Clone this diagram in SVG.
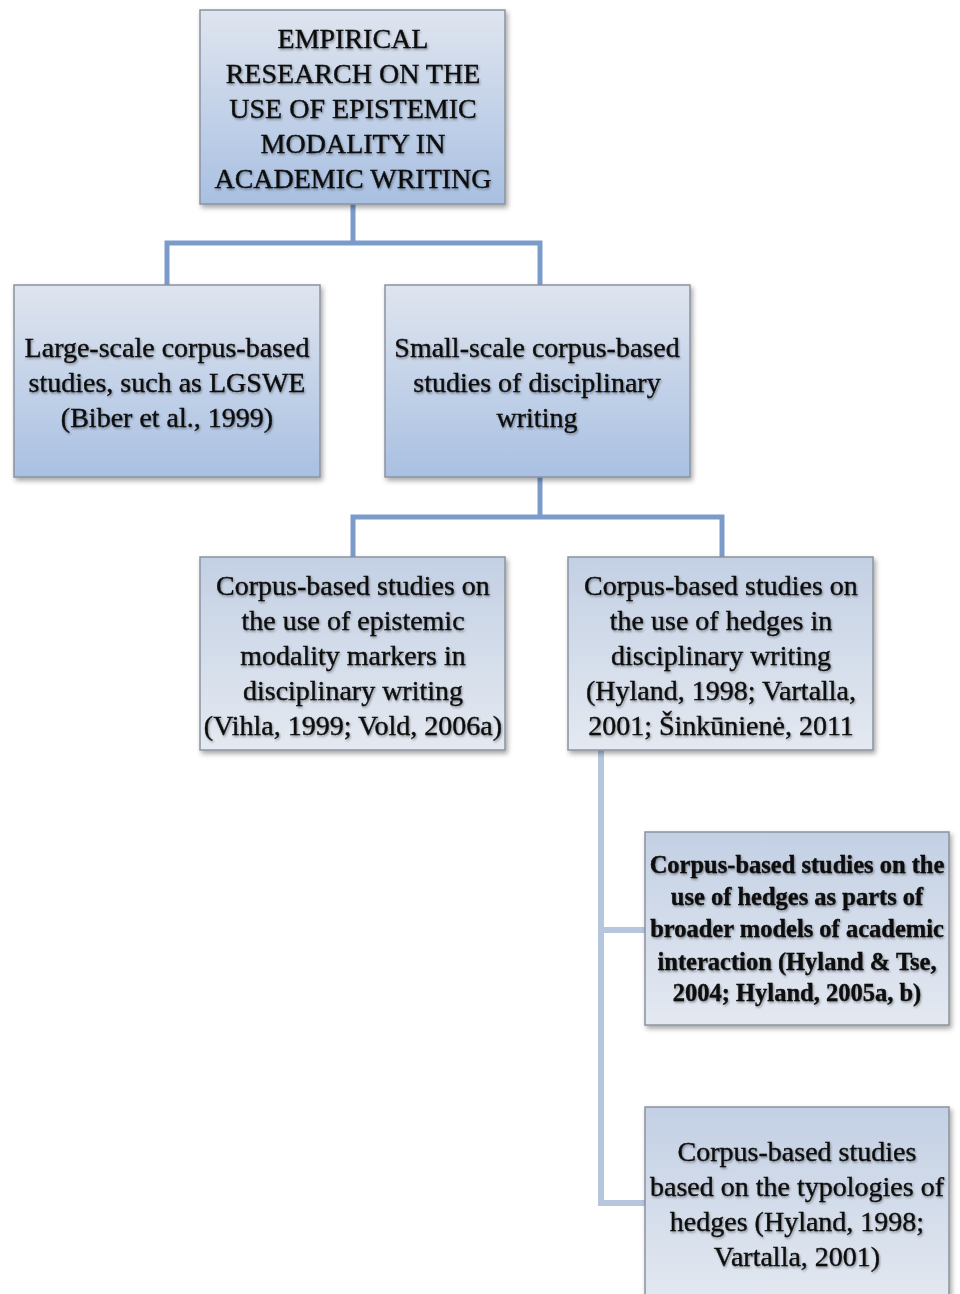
<svg xmlns="http://www.w3.org/2000/svg" width="960" height="1294" viewBox="0 0 960 1294">
<defs>
<linearGradient id="gA" x1="0" y1="0" x2="0" y2="1">
<stop offset="0" stop-color="#dfe5ef"/>
<stop offset="1" stop-color="#a9c0e2"/>
</linearGradient>
<linearGradient id="gB" x1="0" y1="0" x2="0" y2="1">
<stop offset="0" stop-color="#c3d0e4"/>
<stop offset="1" stop-color="#e4e9f1"/>
</linearGradient>
<filter id="sh" x="-10%" y="-10%" width="125%" height="125%">
<feDropShadow dx="2" dy="3" stdDeviation="2.5" flood-color="#000" flood-opacity="0.35"/>
</filter>
<filter id="tsh" x="-5%" y="-20%" width="110%" height="140%">
<feDropShadow dx="1" dy="1.5" stdDeviation="1" flood-color="#000" flood-opacity="0.4"/>
</filter>
</defs>
<style>
.box{stroke:#8a93a0;stroke-width:1.5;filter:url(#sh)}
.a{fill:url(#gA)}
.b{fill:url(#gB)}
.t{font-family:"Liberation Serif","Times New Roman",serif;font-size:28px;fill:#0a0a0a;stroke:#0a0a0a;stroke-width:0.3;text-anchor:middle;filter:url(#tsh)}
.s{font-size:24.5px;font-weight:bold}
.c1{fill:none;stroke:#7b9ccb;stroke-width:5}
.c2{fill:none;stroke:#b6c6dd;stroke-width:6}
</style>
<g id="connectors">
<path class="c1" d="M353 204 V243 M167 285 V243 H540 V285"/>
<path class="c1" d="M540 477 V517 M353 557 V517 H722 V557"/>
<path class="c2" d="M601 750 V1203 H645 M601 930 H645"/>
</g>
<g id="root">
<rect class="box a" x="200" y="10" width="305" height="194"/>
<text class="t"><tspan x="353" y="48">EMPIRICAL</tspan><tspan x="353" y="83">RESEARCH ON THE</tspan><tspan x="353" y="118">USE OF EPISTEMIC</tspan><tspan x="353" y="153">MODALITY IN</tspan><tspan x="353" y="188">ACADEMIC WRITING</tspan></text>
</g>
<g id="large">
<rect class="box a" x="14" y="285" width="306" height="192"/>
<text class="t"><tspan x="167" y="357">Large-scale corpus-based</tspan><tspan x="167" y="392">studies, such as LGSWE</tspan><tspan x="167" y="427">(Biber et al., 1999)</tspan></text>
</g>
<g id="small">
<rect class="box a" x="385" y="285" width="305" height="192"/>
<text class="t"><tspan x="537" y="357">Small-scale corpus-based</tspan><tspan x="537" y="392">studies of disciplinary</tspan><tspan x="537" y="427">writing</tspan></text>
</g>
<g id="epistemic">
<rect class="box b" x="200" y="557" width="305" height="193"/>
<text class="t"><tspan x="353" y="595">Corpus-based studies on</tspan><tspan x="353" y="630">the use of epistemic</tspan><tspan x="353" y="665">modality markers in</tspan><tspan x="353" y="700">disciplinary writing</tspan><tspan x="353" y="735">(Vihla, 1999; Vold, 2006a)</tspan></text>
</g>
<g id="hedges">
<rect class="box b" x="568" y="557" width="305" height="193"/>
<text class="t"><tspan x="721" y="595">Corpus-based studies on</tspan><tspan x="721" y="630">the use of hedges in</tspan><tspan x="721" y="665">disciplinary writing</tspan><tspan x="721" y="700">(Hyland, 1998; Vartalla,</tspan><tspan x="721" y="735">2001; Šinkūnienė, 2011</tspan></text>
</g>
<g id="broader">
<rect class="box b" x="645" y="832" width="304" height="193"/>
<text class="t s"><tspan x="797" y="873">Corpus-based studies on the</tspan><tspan x="797" y="905">use of hedges as parts of</tspan><tspan x="797" y="937">broader models of academic</tspan><tspan x="797" y="970">interaction (Hyland &amp; Tse,</tspan><tspan x="797" y="1001">2004; Hyland, 2005a, b)</tspan></text>
</g>
<g id="typologies">
<rect class="box b" x="645" y="1107" width="304" height="200"/>
<text class="t"><tspan x="797" y="1161">Corpus-based studies</tspan><tspan x="797" y="1196">based on the typologies of</tspan><tspan x="797" y="1231">hedges (Hyland, 1998;</tspan><tspan x="797" y="1266">Vartalla, 2001)</tspan></text>
</g>
</svg>
